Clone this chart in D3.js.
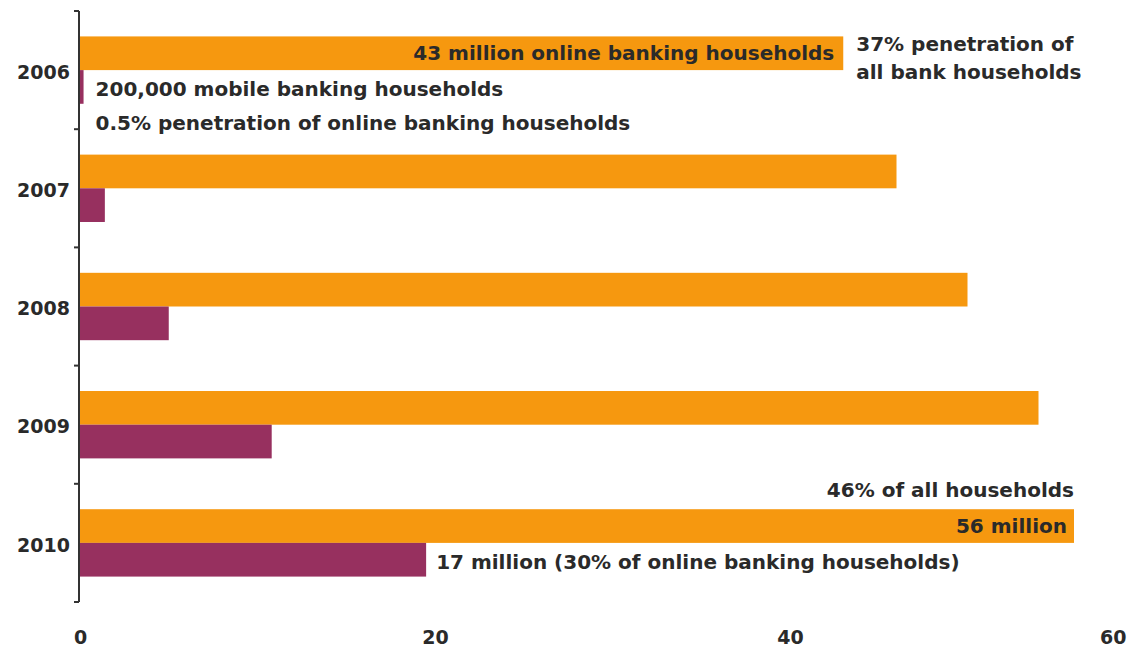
<!DOCTYPE html>
<html lang="en">
<head>
<meta charset="UTF-8">
<title>Online and mobile banking households</title>
<script src="https://d3js.org/d3.v7.min.js"></script>
<style>
    body { margin: 0; background: #fff; }
    svg text {
        font-family: 'DejaVu Sans', sans-serif;
        font-weight: bold;
        fill: #2a2a2a;
    }
</style>
</head>
<body>
<svg width="1129" height="657"></svg>
<script>
    // data (millions of households)
    var years = ["2006", "2007", "2008", "2009", "2010"];
    var onlineHouseholds = [43, 46, 50, 54, 56];
    var mobileHouseholds = [0.2, 1.4, 5, 10.8, 19.5];
    var xTicks = [0, 20, 40, 60];

    var width = 1129, height = 657;
    var svg = d3.select("svg");

    var x = d3.scaleLinear().domain([0, 60]).range([80, 1145]);
    var y = d3.scaleBand().domain(years).range([11, 602])
        .paddingInner(0.43).paddingOuter(0.215);
    var sub = d3.scaleBand().domain(["online", "mobile"]).range([0, y.bandwidth()]);

    var colors = { online: "#F6980F", mobile: "#97305F" };

    var rows = years.map(function(yr, i) {
        return { year: yr, online: onlineHouseholds[i], mobile: mobileHouseholds[i] };
    });

    // bars
    ["online", "mobile"].forEach(function(key) {
        svg.append("g").selectAll("rect")
            .data(rows)
            .enter().append("rect")
            .attr("x", x(0))
            .attr("y", function(d) { return y(d.year) + sub(key); })
            .attr("width", function(d) { return x(d[key]) - x(0); })
            .attr("height", sub.bandwidth())
            .attr("fill", colors[key]);
    });

    // y axis: line, boundary ticks, year labels
    var axisX = x(0) - 1;
    svg.append("line")
        .attr("x1", axisX).attr("x2", axisX)
        .attr("y1", y.range()[0]).attr("y2", y.range()[1])
        .attr("stroke", "#333").attr("stroke-width", 2);

    var bounds = d3.range(years.length + 1).map(function(i) { return y.range()[0] + i * y.step(); });
    svg.append("g").selectAll("line")
        .data(bounds)
        .enter().append("line")
        .attr("x1", axisX - 5).attr("x2", axisX)
        .attr("y1", function(d) { return d; }).attr("y2", function(d) { return d; })
        .attr("stroke", "#333").attr("stroke-width", 2);

    svg.append("g").selectAll("text")
        .data(years)
        .enter().append("text")
        .attr("x", axisX - 9)
        .attr("y", function(d) { return y(d) + y.bandwidth() / 2 + 2; })
        .attr("dy", "0.35em")
        .attr("text-anchor", "end")
        .style("font-size", "19px")
        .text(function(d) { return d; });

    // x axis labels only
    var xAxis = svg.append("g")
        .attr("transform", "translate(0,630)")
        .call(d3.axisBottom(x).tickValues(xTicks).tickSize(0).tickPadding(0));
    xAxis.select(".domain").remove();
    xAxis.selectAll("text")
        .attr("font-family", null)
        .style("font-size", "19px")
        .attr("dy", "0.71em")
        .each(function(d) {
            // keep the last label inside the window
            if (x(d) > width - 20) {
                d3.select(this).attr("text-anchor", "end").attr("x", width - 3 - x(d));
            }
        });

    // annotations
    function barMid(i, key) { return y(years[i]) + sub(key) + sub.bandwidth() / 2; }

    function note(tx, ty, anchor, str) {
        svg.append("text")
            .attr("x", tx).attr("y", ty)
            .attr("dy", "0.35em")
            .attr("text-anchor", anchor)
            .style("font-size", "20px")
            .text(str);
    }

    note(x(onlineHouseholds[0]) - 9, barMid(0, "online"), "end", "43 million online banking households");
    note(x(onlineHouseholds[0]) + 13, barMid(0, "online") - 9, "start", "37% penetration of");
    note(x(onlineHouseholds[0]) + 13, barMid(0, "online") + 19, "start", "all bank households");
    note(x(mobileHouseholds[0]) + 12, barMid(0, "mobile") + 2, "start", "200,000 mobile banking households");
    note(x(mobileHouseholds[0]) + 12, barMid(0, "mobile") + 36, "start", "0.5% penetration of online banking households");
    note(x(onlineHouseholds[4]), y("2010") - 19, "end", "46% of all households");
    note(x(onlineHouseholds[4]) - 7, barMid(4, "online"), "end", "56 million");
    note(x(mobileHouseholds[4]) + 10, barMid(4, "mobile") + 2, "start", "17 million (30% of online banking households)");
</script>
</body>
</html>
